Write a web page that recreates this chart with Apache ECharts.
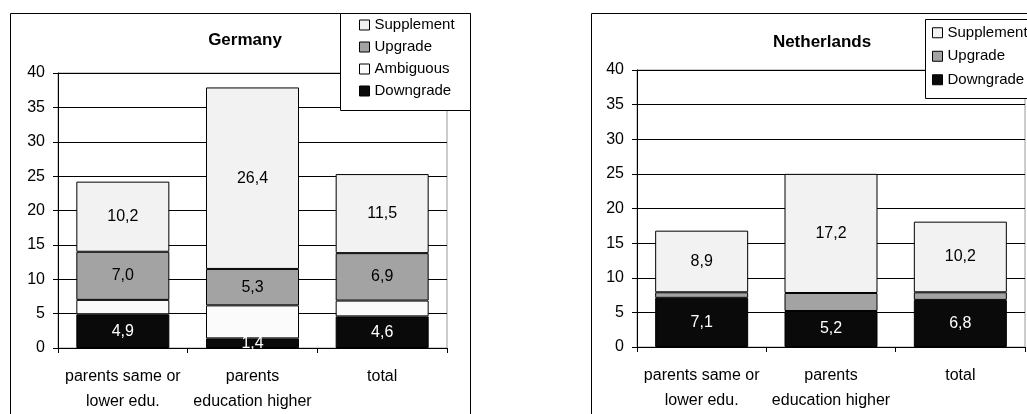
<!DOCTYPE html>
<html>
<head>
<meta charset="utf-8">
<script src="https://cdn.jsdelivr.net/npm/echarts@6/dist/echarts.min.js"></script>
<style>
  html, body { margin: 0; padding: 0; background: #fff; }
  #chart { width: 1027px; height: 414px; }
</style>
</head>
<body>
<div id="chart"></div>
<script>
// Categories shared by both panels
const categories = ['parents same or\nlower edu.', 'parents\neducation higher', 'total'];

// Germany (%), stacked bottom to top: Downgrade, Ambiguous, Upgrade, Supplement
const deDowngrade  = [4.9, 1.4, 4.6];
const deAmbiguous  = [2.1, 4.8, 2.3];
const deUpgrade    = [7.0, 5.3, 6.9];
const deSupplement = [10.2, 26.4, 11.5];

// Netherlands (%), stacked bottom to top: Downgrade, Upgrade, Supplement
const nlDowngrade  = [7.1, 5.2, 6.8];
const nlUpgrade    = [0.8, 2.6, 1.1];
const nlSupplement = [8.9, 17.2, 10.2];

// Value axis ticks
const yMin = 0, yMax = 40, yStep = 5;

const FONT = "'Liberation Sans', Arial, sans-serif";
const COLORS = {
  Supplement: '#f2f2f2',
  Upgrade: '#a3a3a3',
  Ambiguous: '#fbfbfb',
  Downgrade: '#0a0a0a'
};

const fmt = p => p.value.toFixed(1).replace('.', ',');

function yAxis(gridIndex) {
  return {
    type: 'value', gridIndex, min: yMin, max: yMax, interval: yStep,
    axisLine: { show: true, lineStyle: { color: '#000', width: 1 } },
    axisTick: { show: true, length: 5, lineStyle: { color: '#000' } },
    axisLabel: { color: '#000', fontFamily: FONT, fontSize: 16, margin: 13 },
    splitLine: { show: true, lineStyle: { color: '#000', width: 1 } }
  };
}
function xAxis(gridIndex) {
  return {
    type: 'category', gridIndex, data: categories,
    axisLine: { show: true, lineStyle: { color: '#000', width: 1 } },
    axisTick: { show: true, length: 5, interval: 0, alignWithLabel: false, lineStyle: { color: '#000' } },
    axisLabel: { color: '#000', fontFamily: FONT, fontSize: 16, lineHeight: 25, margin: 16, interval: 0 },
    splitLine: { show: false }
  };
}
function bar(name, data, idx, stack, showLabel, labelColor) {
  return {
    name, type: 'bar', stack, data,
    xAxisIndex: idx, yAxisIndex: idx,
    barWidth: 93,
    itemStyle: { color: COLORS[name], borderColor: '#000', borderWidth: 1 },
    label: {
      show: showLabel, position: 'inside', formatter: fmt,
      color: labelColor, fontFamily: FONT, fontSize: 16
    },
    emphasis: { disabled: true }
  };
}
function legend(items, left, top, lineHeight) {
  return {
    data: items, orient: 'vertical', left, top, padding: 0, itemGap: 0,
    itemWidth: 10, itemHeight: 10, icon: 'rect', selectedMode: false, z: 12,
    itemStyle: { borderColor: '#000', borderWidth: 1 },
    textStyle: { color: '#000', fontFamily: FONT, fontSize: 15, lineHeight }
  };
}

const chart = echarts.init(document.getElementById('chart'), null, { renderer: 'canvas' });
chart.setOption({
  animation: false,
  backgroundColor: '#fff',
  title: [
    { text: 'Germany', left: 240, top: 27, textAlign: 'center',
      textStyle: { fontFamily: FONT, fontSize: 17, fontWeight: 'bold', color: '#000' } },
    { text: 'Netherlands', left: 817, top: 29, textAlign: 'center',
      textStyle: { fontFamily: FONT, fontSize: 17, fontWeight: 'bold', color: '#000' } }
  ],
  grid: [
    { left: 58, top: 73, width: 389, height: 275, show: true, borderColor: '#999', borderWidth: 1, backgroundColor: 'transparent' },
    { left: 637, top: 70, width: 388, height: 277, show: true, borderColor: '#999', borderWidth: 1, backgroundColor: 'transparent' }
  ],
  xAxis: [xAxis(0), xAxis(1)],
  yAxis: [yAxis(0), yAxis(1)],
  legend: [
    legend(['Supplement', 'Upgrade', 'Ambiguous', 'Downgrade'], 359, 14, 22),
    legend(['Supplement', 'Upgrade', 'Downgrade'], 932, 21, 23.5)
  ],
  graphic: [
    // panel frames
    { type: 'rect', z: 1, silent: true, shape: { x: 10.5, y: 13.5, width: 460, height: 430 },
      style: { fill: 'none', stroke: '#000', lineWidth: 1 } },
    { type: 'rect', z: 1, silent: true, shape: { x: 591.5, y: 13.5, width: 500, height: 430 },
      style: { fill: 'none', stroke: '#000', lineWidth: 1 } },
    // legend boxes
    { type: 'rect', z: 10, silent: true, shape: { x: 340.5, y: 13.5, width: 130, height: 97 },
      style: { fill: '#fff', stroke: '#000', lineWidth: 1 } },
    { type: 'rect', z: 10, silent: true, shape: { x: 925.5, y: 19.5, width: 140, height: 79 },
      style: { fill: '#fff', stroke: '#000', lineWidth: 1 } }
  ],
  series: [
    bar('Downgrade', deDowngrade, 0, 'de', true, '#fff'),
    bar('Ambiguous', deAmbiguous, 0, 'de', false, '#000'),
    bar('Upgrade', deUpgrade, 0, 'de', true, '#000'),
    bar('Supplement', deSupplement, 0, 'de', true, '#000'),
    bar('Downgrade', nlDowngrade, 1, 'nl', true, '#fff'),
    bar('Upgrade', nlUpgrade, 1, 'nl', false, '#000'),
    bar('Supplement', nlSupplement, 1, 'nl', true, '#000')
  ]
});
</script>
</body>
</html>
